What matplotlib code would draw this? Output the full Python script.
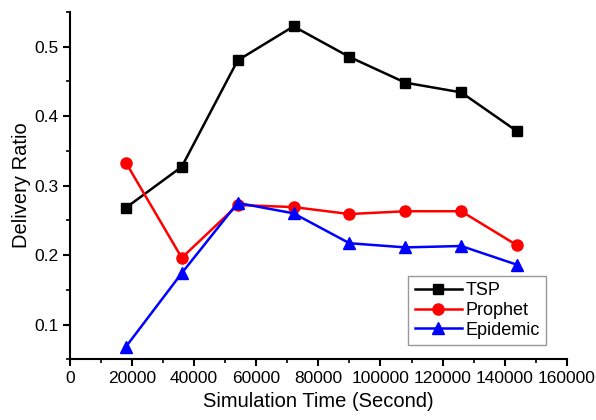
import numpy as np
import matplotlib.pyplot as plt
from matplotlib.ticker import MultipleLocator

plt.rcParams['font.family'] = ['Liberation Sans', 'DejaVu Sans']

# data
sim_time = [18000, 36000, 54000, 72000, 90000, 108000, 126000, 144000]
tsp = [0.268, 0.327, 0.480, 0.529, 0.485, 0.448, 0.434, 0.378]
prophet = [0.333, 0.196, 0.272, 0.269, 0.259, 0.263, 0.263, 0.214]
epidemic = [0.068, 0.174, 0.275, 0.260, 0.217, 0.211, 0.213, 0.186]

fig = plt.figure(figsize=(5.96, 4.2), dpi=100)
ax = fig.add_axes([0.1174, 0.1445, 0.8336, 0.8275])

ax.plot(sim_time, tsp, 's-', color='black', linewidth=1.8, markersize=7.5, label='TSP')
ax.plot(sim_time, prophet, 'o-', color='red', linewidth=1.8, markersize=8, label='Prophet')
ax.plot(sim_time, epidemic, '^-', color='blue', linewidth=1.8, markersize=8.5, label='Epidemic')

ax.set_xlim(0, 160000)
ax.set_ylim(0.05, 0.55)
ax.xaxis.set_major_locator(MultipleLocator(20000))
ax.xaxis.set_minor_locator(MultipleLocator(10000))
ax.yaxis.set_minor_locator(MultipleLocator(0.05))
ax.set_yticks([0.1, 0.2, 0.3, 0.4, 0.5])

for side in ['top', 'right']:
    ax.spines[side].set_visible(False)
for side in ['left', 'bottom']:
    ax.spines[side].set_linewidth(1.5)

ax.tick_params(which='major', direction='out', length=5, width=1.5, labelsize=12.5)
ax.tick_params(which='minor', direction='out', length=3, width=1.2)

ax.set_xlabel('Simulation Time (Second)', fontsize=14.5)
ax.set_ylabel('Delivery Ratio', fontsize=14.5, labelpad=2)

leg = ax.legend(loc='lower right', bbox_to_anchor=(0.958, 0.041), borderaxespad=0,
                fancybox=False, fontsize=13, handlelength=2.6, labelspacing=0.15,
                borderpad=0.35, handletextpad=0.2)
leg.get_frame().set_edgecolor('gray')
leg.get_frame().set_linewidth(1.0)

plt.savefig('out.png', dpi=100)
